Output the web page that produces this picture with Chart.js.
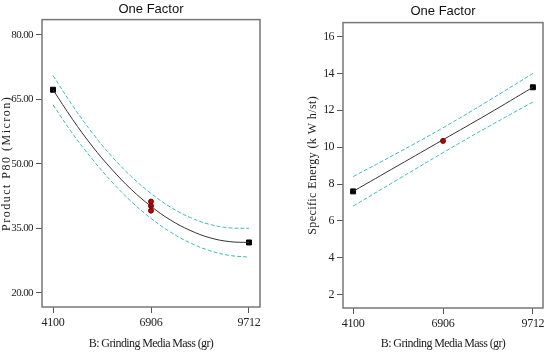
<!DOCTYPE html>
<html>
<head>
<meta charset="utf-8">
<script src="https://cdn.jsdelivr.net/npm/chart.js@4"></script>
<style>
  body { margin: 0; background: #fff; }
  #wrap { position: relative; width: 550px; height: 357px; }
  canvas { position: absolute; top: 0; }
</style>
</head>
<body>
<div id="wrap">
  <canvas id="p80" width="275" height="357" style="left:0"></canvas>
  <canvas id="energy" width="275" height="357" style="left:275px"></canvas>
</div>
<script>
// grinding media mass, gr
var xTicks = [4100, 6906, 9712];
var massGrid = [4100, 4661, 5222, 5784, 6345, 6906, 7467, 8028, 8590, 9151, 9712];

// product P80 (micron) - prediction and 95% band
var p80Mean  = [67.2, 60.3, 54.1, 48.7, 44.0, 40.1, 36.9, 34.5, 32.8, 31.9, 31.7];
var p80Upper = [70.5, 63.5, 57.2, 51.7, 47.0, 43.1, 39.9, 37.5, 35.9, 35.1, 35.0];
var p80Lower = [63.7, 57.0, 51.1, 45.8, 41.2, 37.3, 34.1, 31.6, 29.8, 28.7, 28.3];
var p80Runs  = [41.2, 40.2, 39.1];
var p80Ticks = [20, 35, 50, 65, 80];

// specific energy (kWh/st)
var energyGrid  = [4100, 5503, 6906, 8309, 9712];
var energyMean  = [7.6, 9.0, 10.4, 11.8, 13.25];
var energyUpper = [8.4, 9.7, 11.05, 12.5, 14.0];
var energyLower = [6.8, 8.25, 9.7, 11.1, 12.45];
var energyRuns  = [10.34];
var energyTicks = [2, 4, 6, 8, 10, 12, 14, 16];

var teal = 'rgb(64,186,186)';
var serif = "'Liberation Serif', 'Times New Roman', serif";

function pts(xs, ys) {
    return ys.map(function(y, i) { return {x: xs[i], y: y}; });
}

var frame = {
    id: 'frame',
    afterDraw: function(chart) {
        var a = chart.chartArea, c = chart.ctx;
        c.save();
        c.strokeStyle = '#777';
        c.lineWidth = 1.5;
        c.strokeRect(a.left, a.top, a.right - a.left, a.bottom - a.top);
        c.restore();
    }
};

// squeeze / spread text like the original plot
function spacing(s, method, sp) {
    var key = '_sp_' + method;
    if (s[key]) return;
    s[key] = true;
    var orig = s[method];
    s[method] = function() {
        this.ctx.save();
        this.ctx.letterSpacing = sp;
        orig.apply(this, arguments);
        this.ctx.restore();
    };
}

function makeChart(id, o) {
    var band = function(xs, ys) {
        return {type: 'line', data: pts(xs, ys), borderColor: teal, borderWidth: 1,
                borderDash: [4, 2], pointRadius: 0, tension: 0.4, fill: false};
    };
    return new Chart(document.getElementById(id), {
        type: 'line',
        data: {
            datasets: [
                band(o.grid, o.upper),
                band(o.grid, o.lower),
                {data: pts(o.grid, o.mean), borderColor: '#333', borderWidth: 1,
                 pointRadius: 0, tension: 0.4, fill: false},
                {type: 'scatter', data: [{x: o.grid[0], y: o.mean[0]},
                    {x: o.grid[o.grid.length - 1], y: o.mean[o.mean.length - 1]}],
                 pointStyle: 'rect', pointRadius: 3.5, backgroundColor: '#000', borderColor: '#000'},
                {type: 'scatter', data: o.runs.map(function(v) { return {x: 6906, y: v}; }),
                 pointStyle: 'circle', pointRadius: 2.5, backgroundColor: '#c00000',
                 borderColor: '#700', borderWidth: 1}
            ]
        },
        options: {
            responsive: false,
            animation: false,
            layout: {padding: {right: o.padRight}},
            plugins: {
                legend: {display: false},
                tooltip: {enabled: false},
                title: {
                    display: true, text: 'One Factor', fullSize: false, color: '#111',
                    font: {family: "'Liberation Sans', Arial, sans-serif", size: 13, weight: 'normal'},
                    padding: o.titlePad
                }
            },
            scales: {
                x: {
                    type: 'linear', min: 3785, max: 10027,
                    afterBuildTicks: function(s) { s.ticks = xTicks.map(function(v) { return {value: v}; }); },
                    afterFit: function(s) {
                        s.height = o.xHeight;
                        spacing(s, 'drawLabels', '-0.3px');
                        spacing(s, 'drawTitle', '-0.6px');
                    },
                    ticks: {color: '#222', font: {family: serif, size: 12}, padding: 3,
                            maxRotation: 0, callback: function(v) { return String(v); }},
                    grid: {drawOnChartArea: false, tickLength: 6, color: '#555'},
                    border: {display: false},
                    title: {display: true, text: 'B: Grinding Media Mass (gr)', color: '#222',
                            font: {family: serif, size: 12}, padding: {top: 0, bottom: 6}}
                },
                y: {
                    min: o.yMin, max: o.yMax,
                    afterBuildTicks: function(s) { s.ticks = o.ticks.map(function(v) { return {value: v}; }); },
                    afterFit: function(s) {
                        s.width = o.yWidth;
                        spacing(s, 'drawLabels', '-0.6px');
                        spacing(s, 'drawTitle', o.spread);
                    },
                    ticks: {color: '#222', font: {family: serif, size: o.tickSize}, padding: 3,
                            callback: o.fmt},
                    grid: {drawOnChartArea: false, tickLength: 6, color: '#555'},
                    border: {display: false},
                    title: {display: true, text: o.yTitle, color: '#222',
                            font: {family: serif, size: 12}, padding: {top: o.yTitlePad, bottom: 0}}
                }
            }
        },
        plugins: [frame]
    });
}

makeChart('p80', {
    grid: massGrid, mean: p80Mean, upper: p80Upper, lower: p80Lower, runs: p80Runs,
    ticks: p80Ticks, yMin: 16.7, yMax: 83.5, yWidth: 42, xHeight: 50, padRight: 15, tickSize: 11,
    titlePad: {top: 2, bottom: 2}, yTitle: 'Product P80 (Micron)', yTitlePad: 0, spread: '1.5px',
    fmt: function(v) { return v.toFixed(2); }
});

makeChart('energy', {
    grid: energyGrid, mean: energyMean, upper: energyUpper, lower: energyLower, runs: energyRuns,
    ticks: energyTicks, yMin: 1.27, yMax: 16.76, yWidth: 68, xHeight: 49, padRight: 7, tickSize: 12,
    titlePad: {top: 4, bottom: 3}, yTitle: 'Specific Energy (k W h/st)', yTitlePad: 31, spread: '0.4px',
    fmt: function(v) { return String(v); }
});
</script>
</body>
</html>
